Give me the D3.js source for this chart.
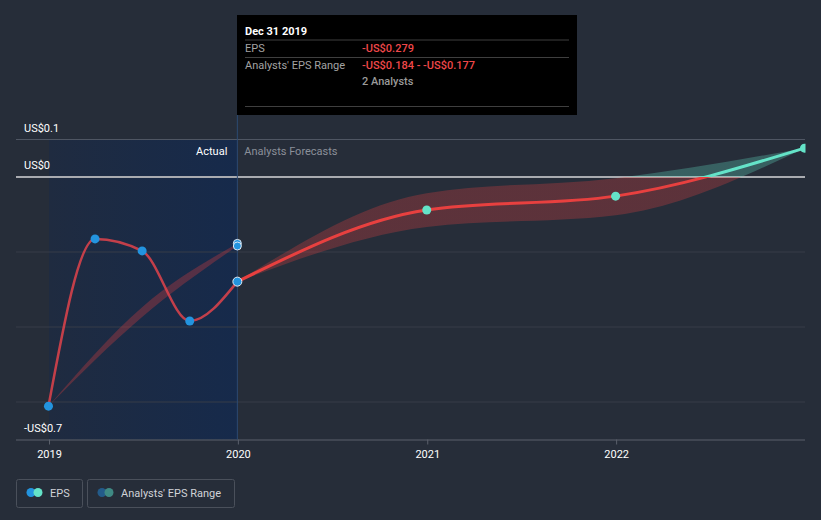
<!DOCTYPE html>
<html><head><meta charset="utf-8">
<script src="https://cdn.jsdelivr.net/npm/d3@7"></script>
<style>
html,body{margin:0;padding:0;background:#262d39;}
svg{display:block;font-family:Roboto,"Open Sans",sans-serif;}
</style></head>
<body>
<svg id="c" width="821" height="520"></svg>
<script>
// ---- data ----
const actualDates = ["2018-12-31","2019-03-31","2019-06-30","2019-09-30","2019-12-31"];
const actualEps = [-0.611,-0.165,-0.197,-0.384,-0.279];
const pastRangeDates = ["2018-12-31","2019-06-30","2019-12-31"];
const pastRangeLow = [-0.611,-0.373,-0.184];
const pastRangeHigh = [-0.611,-0.347,-0.177];
const forecastDates = ["2019-12-31","2020-12-31","2021-12-31","2022-12-31"];
const forecastEps = [-0.279,-0.088,-0.051,0.077];
const forecastLow = [-0.279,-0.133,-0.102,0.077];
const forecastHigh = [-0.279,-0.043,-0.003,0.077];
const yTickValues = [0.1,0,-0.7];
const yTickLabels = ["US$0.1","US$0","-US$0.7"];
const gridValues = [0.1,-0.2,-0.4,-0.6];
const xTickYears = ["2019","2020","2021","2022"];
const tooltipTitle = "Dec 31 2019";
const tooltipRows = [["EPS","-US$0.279"],["Analysts' EPS Range","-US$0.184 - -US$0.177"]];
const tooltipAnalysts = "2 Analysts";

const parse = d3.timeParse("%Y-%m-%d");
const svg = d3.select("#c");
const x = d3.scaleTime().domain([new Date(2019,0,1), new Date(2023,0,1)]).range([49,805]);
const y = d3.scaleLinear().domain([-0.7,0.1]).range([439.5,139.5]);
const L = 16, R = 805;
const RED = "#e8403f", TEAL = "#64e3c8", BLUE = "#2394df";

const defs = svg.append("defs");
const ag = defs.append("linearGradient").attr("id","actualBg").attr("x1","0").attr("x2","1").attr("y1","0").attr("y2","0");
ag.append("stop").attr("offset","0").attr("stop-color","#1f2b40");
ag.append("stop").attr("offset","1").attr("stop-color","#162a4b");
defs.append("clipPath").attr("id","plotClip").append("rect").attr("x",L).attr("y",100).attr("width",R-L+0.5).attr("height",345);

function splitGrad(id, op){
  const g = defs.append("linearGradient").attr("id",id).attr("gradientUnits","userSpaceOnUse")
    .attr("x1",0).attr("x2",0).attr("y1",y(0.1)).attr("y2",y(-0.7));
  const off = (y(0)-y(0.1))/(y(-0.7)-y(0.1));
  g.append("stop").attr("offset",0).attr("stop-color",TEAL).attr("stop-opacity",op);
  g.append("stop").attr("offset",off).attr("stop-color",TEAL).attr("stop-opacity",op);
  g.append("stop").attr("offset",off).attr("stop-color",RED).attr("stop-opacity",op);
  g.append("stop").attr("offset",1).attr("stop-color",RED).attr("stop-opacity",op);
}
splitGrad("lineGrad",1);
splitGrad("bandGrad",0.28);

// actual background region
const xa0 = x(parse(actualDates[0])), xa1 = x(parse(actualDates[actualDates.length-1]));
svg.append("rect").attr("x",x(new Date(2019,0,1))).attr("y",y(0.1)).attr("width",xa1-x(new Date(2019,0,1))).attr("height",y(-0.7)-y(0.1)).attr("fill","url(#actualBg)");

// gridlines
svg.selectAll(".grid").data(gridValues).enter().append("line")
  .attr("x1",L).attr("x2",R).attr("y1",d=>y(d)).attr("y2",d=>y(d))
  .attr("stroke",d=>d===0.1?"#4f5663":"#363d49").attr("stroke-width",1);

// x axis
const xAxis = d3.axisBottom(x).tickValues(xTickYears.map(t=>new Date(+t,0,1))).tickFormat(d3.timeFormat("%Y")).tickSize(5).tickPadding(6);
const gx = svg.append("g").attr("transform",`translate(0,${y(-0.7)})`).call(xAxis);
gx.select(".domain").attr("d",`M${L},0.5H${R}`).attr("stroke","#5b616c");
gx.selectAll(".tick line").attr("stroke","#5b616c");
gx.selectAll(".tick text").attr("fill","#ffffff").attr("font-size",11).attr("font-family","Roboto,sans-serif");

// zero line
svg.append("line").attr("x1",L).attr("x2",R).attr("y1",y(0)).attr("y2",y(0)).attr("stroke","#a9abb0").attr("stroke-width",2);

// vertical divider
svg.append("line").attr("x1",xa1).attr("x2",xa1).attr("y1",115).attr("y2",y(-0.7)).attr("stroke","#2c4a72").attr("stroke-width",1);

// y labels
svg.selectAll(".ylab").data(yTickValues).enter().append("text")
  .attr("x",24).attr("y",d=>y(d)-8).attr("fill","#ffffff").attr("font-size",11)
  .text((d,i)=>yTickLabels[i]);

const plot = svg.append("g").attr("clip-path","url(#plotClip)");

// past range band
const pastBand = pastRangeDates.map((d,i)=>({x:parse(d),lo:pastRangeLow[i],hi:pastRangeHigh[i]}));
plot.append("path").datum(pastBand)
  .attr("d",d3.area().curve(d3.curveMonotoneX).x(d=>x(d.x)).y0(d=>y(d.lo)).y1(d=>y(d.hi)))
  .attr("fill",RED).attr("fill-opacity",0.3);

// forecast band
const fBand = forecastDates.map((d,i)=>({x:parse(d),lo:forecastLow[i],hi:forecastHigh[i]}));
plot.append("path").datum(fBand)
  .attr("d",d3.area().curve(d3.curveMonotoneX).x(d=>x(d.x)).y0(d=>y(d.lo)).y1(d=>y(d.hi)))
  .attr("fill","url(#bandGrad)");

// actual line
const act = actualDates.map((d,i)=>({x:parse(d),v:actualEps[i]}));
const lineGen = d3.line().curve(d3.curveMonotoneX).x(d=>x(d.x)).y(d=>y(d.v));
plot.append("path").datum(act).attr("d",lineGen).attr("fill","none")
  .attr("stroke","#e0434b").attr("stroke-opacity",0.85).attr("stroke-width",2.5);

// forecast line
const fc = forecastDates.map((d,i)=>({x:parse(d),v:forecastEps[i]}));
plot.append("path").datum(fc).attr("d",lineGen).attr("fill","none")
  .attr("stroke","url(#lineGrad)").attr("stroke-width",3);

// actual points
plot.selectAll(".ap").data(act.slice(0,-1)).enter().append("circle")
  .attr("cx",d=>x(d.x)).attr("cy",d=>y(d.v)).attr("r",4.5).attr("fill",BLUE);
// range endpoint markers at last actual date
const last = pastBand[pastBand.length-1];
[last.hi,last.lo].forEach(v=>{
  plot.append("circle").attr("cx",x(last.x)).attr("cy",y(v)).attr("r",4).attr("fill",BLUE).attr("stroke","#dfe8f2").attr("stroke-width",1);
});
plot.append("circle").attr("cx",x(act[act.length-1].x)).attr("cy",y(act[act.length-1].v)).attr("r",4.5).attr("fill",BLUE).attr("stroke","#e6eef6").attr("stroke-width",1);

// forecast points
plot.selectAll(".fp").data(fc.slice(1)).enter().append("circle")
  .attr("cx",d=>x(d.x)).attr("cy",d=>y(d.v)).attr("r",4.5).attr("fill",TEAL);

// Actual / Analysts Forecasts labels
svg.append("text").attr("x",xa1-10).attr("y",155).attr("text-anchor","end").attr("fill","#ffffff").attr("font-size",11).text("Actual");
svg.append("text").attr("x",xa1+7).attr("y",155).attr("fill","#8b9099").attr("font-size",11).text("Analysts Forecasts");

// tooltip
const tt = svg.append("g");
tt.append("rect").attr("x",237).attr("y",15).attr("width",340).attr("height",100).attr("fill","#000000");
tt.append("text").attr("x",245).attr("y",35).attr("fill","#ffffff").attr("font-size",11).attr("font-weight","bold").text(tooltipTitle);
[40,57.5,106.5].forEach(ly=>tt.append("line").attr("x1",245).attr("x2",569).attr("y1",ly).attr("y2",ly).attr("stroke","#3f3f3f").attr("stroke-width",1));
tooltipRows.forEach((r,i)=>{
  const by = 52+i*17;
  tt.append("text").attr("x",245).attr("y",by).attr("fill","#a3a3a3").attr("font-size",11).text(r[0]);
  tt.append("text").attr("x",362).attr("y",by).attr("fill","#f0484a").attr("font-size",11).attr("font-weight",500).text(r[1]);
});
tt.append("text").attr("x",362).attr("y",85).attr("fill","#9a9a9a").attr("font-size",11).attr("font-weight",500).text(tooltipAnalysts);

// legend
const legend = [
  {label:"EPS", c1:BLUE, c2:TEAL, x:16, w:66},
  {label:"Analysts' EPS Range", c1:"#235b8a", c2:"#3f8a84", x:87, w:147}
];
legend.forEach(l=>{
  const g = svg.append("g");
  g.append("rect").attr("x",l.x+0.5).attr("y",479.5).attr("width",l.w).attr("height",28).attr("rx",2)
    .attr("fill","none").attr("stroke","#4a505b").attr("stroke-width",1);
  g.append("circle").attr("cx",l.x+15).attr("cy",492.5).attr("r",4.5).attr("fill",l.c1);
  g.append("circle").attr("cx",l.x+22).attr("cy",492.5).attr("r",4.5).attr("fill",l.c2);
  g.append("text").attr("x",l.x+34).attr("y",497).attr("fill","#d0d3d8").attr("font-size",11).text(l.label);
});
</script>
</body></html>
